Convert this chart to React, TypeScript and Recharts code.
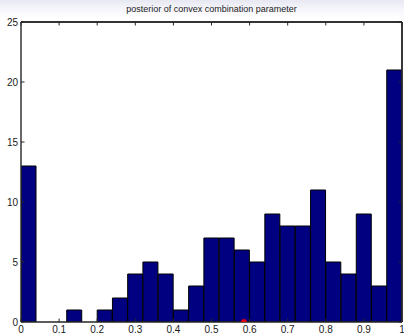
import React from "react";
import {
  ComposedChart,
  Bar,
  Scatter,
  XAxis,
  YAxis,
  ReferenceLine,
} from "recharts";

// Histogram bins: 25 equal-width bins over [0, 1]
const binCenters = [
  0.02, 0.06, 0.1, 0.14, 0.18, 0.22, 0.26, 0.3, 0.34, 0.38, 0.42, 0.46, 0.5,
  0.54, 0.58, 0.62, 0.66, 0.7, 0.74, 0.78, 0.82, 0.86, 0.9, 0.94, 0.98,
];
const binCounts = [
  13, 0, 0, 1, 0, 1, 2, 4, 5, 4, 1, 3, 7, 7, 6, 5, 9, 8, 8, 11, 5, 4, 9, 3, 21,
];
const trueValue = [{ center: 0.585, count: 0 }];

const xTicks = [0, 0.1, 0.2, 0.3, 0.4, 0.5, 0.6, 0.7, 0.8, 0.9, 1];
const yTicks = [0, 5, 10, 15, 20, 25];

const title = "posterior of convex combination parameter";

const data = binCenters.map((c, i) => ({ center: c, count: binCounts[i] }));

const W = 404;
const H = 334;
const FONT = "'Liberation Sans', Arial, Helvetica, sans-serif";
const FRAME = "#262626";
const TICK_LEN = 3.5;

const fmtX = (v: number) => (v === 0 || v === 1 ? String(v) : v.toFixed(1));
const labelStyle = { fontSize: 10, fill: "#1a1a1a", fontFamily: FONT };
const tickLineStyle = { stroke: FRAME, strokeWidth: 1 };
const axisLineStyle = { stroke: FRAME, strokeWidth: 1.4 };

// Red asterisk marker on the baseline
const Asterisk = (props: any) => {
  const { cx, cy } = props;
  const r = 3.2;
  const d = r * 0.7;
  return (
    <g stroke="#ff0000" strokeWidth={1.3}>
      <line x1={cx - r} x2={cx + r} y1={cy} y2={cy} />
      <line x1={cx} x2={cx} y1={cy - r} y2={cy + r} />
      <line x1={cx - d} x2={cx + d} y1={cy - d} y2={cy + d} />
      <line x1={cx - d} x2={cx + d} y1={cy + d} y2={cy - d} />
    </g>
  );
};

const NoLabel = () => <g />;

export default function App() {
  return (
    <div
      style={{
        position: "absolute",
        left: 0,
        top: 0,
        width: W,
        height: H,
        background: "linear-gradient(to bottom, #e8e8f2 0px, #f4f4fa 8px, #ffffff 18px)",
        overflow: "hidden",
      }}
    >
      <div
        style={{
          position: "absolute",
          left: 21,
          width: 381,
          top: 4,
          textAlign: "center",
          fontFamily: FONT,
          fontSize: 9,
          color: "#1a1a1a",
          lineHeight: "11px",
        }}
      >
        {title}
      </div>
      <ComposedChart
        width={W}
        height={H}
        data={data}
        margin={{ top: 21, right: 0, bottom: 0, left: 0 }}
        barCategoryGap={0}
        barGap={0}
      >
        <XAxis
          xAxisId="num"
          dataKey="center"
          type="number"
          domain={[0, 1]}
          ticks={xTicks}
          allowDataOverflow
          height={12}
          tickSize={-TICK_LEN}
          tickMargin={TICK_LEN + 4}
          axisLine={axisLineStyle}
          tickLine={tickLineStyle}
          tick={labelStyle}
          tickFormatter={fmtX}
          interval={0}
        />
        <XAxis
          xAxisId="top"
          dataKey="center"
          orientation="top"
          type="number"
          domain={[0, 1]}
          ticks={xTicks}
          allowDataOverflow
          height={1}
          tickSize={-TICK_LEN}
          tickMargin={0}
          axisLine={axisLineStyle}
          tickLine={tickLineStyle}
          tick={<NoLabel />}
          interval={0}
        />
        <YAxis
          yAxisId="left"
          type="number"
          domain={[0, 25]}
          ticks={yTicks}
          allowDataOverflow
          width={21}
          tickSize={-TICK_LEN}
          tickMargin={TICK_LEN + 3}
          axisLine={axisLineStyle}
          tickLine={tickLineStyle}
          tick={labelStyle}
          interval={0}
        />
        <YAxis
          yAxisId="right"
          orientation="right"
          type="number"
          domain={[0, 25]}
          ticks={yTicks}
          allowDataOverflow
          width={2}
          tickSize={-TICK_LEN}
          tickMargin={0}
          axisLine={axisLineStyle}
          tickLine={tickLineStyle}
          tick={<NoLabel />}
          interval={0}
        />
        <Bar
          xAxisId="num"
          yAxisId="left"
          dataKey="count"
          fill="#000080"
          stroke="#000000"
          strokeWidth={1}
          isAnimationActive={false}
        />
        {/* plot box: top and right edges */}
        <ReferenceLine xAxisId="num" yAxisId="left" y={25} stroke={FRAME} strokeWidth={1.4} />
        <ReferenceLine xAxisId="num" yAxisId="left" x={1} stroke={FRAME} strokeWidth={1.4} />
        <Scatter
          xAxisId="top"
          yAxisId="right"
          data={trueValue}
          dataKey="count"
          shape={<Asterisk />}
          isAnimationActive={false}
        />
      </ComposedChart>
    </div>
  );
}
